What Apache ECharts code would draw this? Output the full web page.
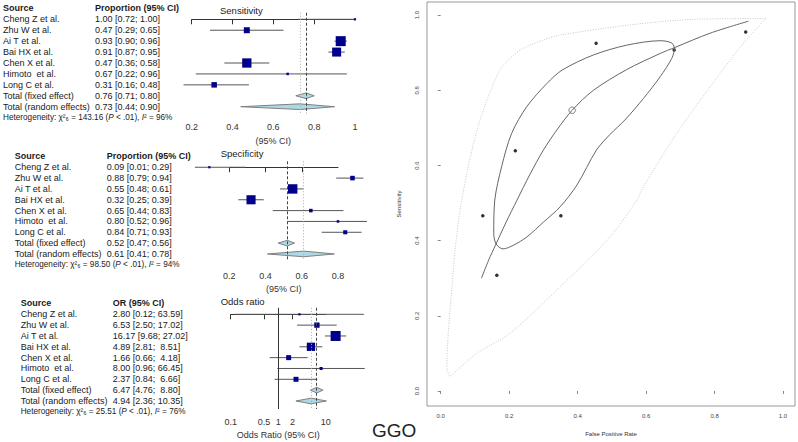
<!DOCTYPE html>
<html>
<head>
<meta charset="utf-8">
<script src="https://cdn.jsdelivr.net/npm/echarts@6/dist/echarts.min.js"></script>
<style>
html, body { margin: 0; padding: 0; background: #fff; }
#main { width: 798px; height: 442px; }
</style>
</head>
<body>
<div id="main"></div>
<script>
// studies, same order in the three forest plots
var studies = ['Cheng Z et al.', 'Zhu W et al.', 'Ai T et al.', 'Bai HX et al.', 'Chen X et al.', 'Himoto  et al.', 'Long C et al.'];

// sensitivity
var sensEst = [1.00, 0.47, 0.93, 0.91, 0.47, 0.67, 0.31];
var sensLo = [0.72, 0.29, 0.90, 0.87, 0.36, 0.22, 0.16];
var sensHi = [1.00, 0.65, 0.96, 0.95, 0.58, 0.96, 0.48];
var sensW = [1.2, 10.5, 29.1, 23.5, 25.1, 1.8, 8.8];
var sensFixed = [0.76, 0.71, 0.80];
var sensRandom = [0.73, 0.44, 0.90];
var sensTicks = [0.2, 0.4, 0.6, 0.8, 1];

// specificity
var specEst = [0.09, 0.88, 0.55, 0.32, 0.65, 0.80, 0.84];
var specLo = [0.01, 0.79, 0.48, 0.25, 0.44, 0.52, 0.71];
var specHi = [0.29, 0.94, 0.61, 0.39, 0.83, 0.96, 0.93];
var specW = [1.8, 9.0, 38.2, 35.8, 5.4, 2.8, 7.1];
var specFixed = [0.52, 0.47, 0.56];
var specRandom = [0.61, 0.41, 0.78];
var specTicks = [0.2, 0.4, 0.6, 0.8];

// odds ratio
var orEst = [2.80, 6.53, 16.17, 4.89, 1.66, 8.00, 2.37];
var orLo = [0.12, 2.50, 9.68, 2.81, 0.66, 0.96, 0.84];
var orHi = [63.59, 17.02, 27.02, 8.51, 4.18, 66.45, 6.66];
var orW = [1.5, 10.8, 38.5, 26.5, 9.6, 3.5, 9.6];
var orFixed = [6.47, 4.76, 8.80];
var orRandom = [4.94, 2.36, 10.35];
var orTicks = [0.1, 0.5, 1, 2, 10];

// heterogeneity (sens, spec, OR)
var hetQ = ['143.16', '98.50', '25.51'];
var hetI2 = [96, 94, 76];

// SROC plot
var srocFpr = [0.891, 0.454, 0.682, 0.218, 0.123, 0.351, 0.164];
var srocSens = [0.955, 0.925, 0.907, 0.639, 0.466, 0.466, 0.308];
var summaryPoint = [0.384, 0.747];
var srocCurve = [[0.119, 0.300], [0.140, 0.348], [0.160, 0.388], [0.190, 0.447], [0.223, 0.508], [0.260, 0.575],
  [0.300, 0.641], [0.339, 0.694], [0.384, 0.747], [0.446, 0.800], [0.543, 0.855], [0.641, 0.898], [0.684, 0.914],
  [0.787, 0.952], [0.899, 0.984]];
var confRegion = [[0.684, 0.911], [0.675, 0.885], [0.641, 0.836], [0.592, 0.778], [0.538, 0.721], [0.495, 0.683],
  [0.455, 0.641], [0.398, 0.548], [0.349, 0.490], [0.301, 0.450], [0.252, 0.410], [0.213, 0.388], [0.182, 0.378],
  [0.162, 0.391], [0.155, 0.419], [0.158, 0.508], [0.178, 0.597], [0.207, 0.685], [0.251, 0.756], [0.310, 0.818],
  [0.355, 0.854], [0.446, 0.894], [0.543, 0.920], [0.641, 0.932], [0.675, 0.926], [0.684, 0.911]];
var predRegion = [[0.027, 0.038], [0.105, 0.100], [0.202, 0.153], [0.349, 0.277], [0.495, 0.410], [0.573, 0.508],
  [0.592, 0.543], [0.689, 0.685], [0.787, 0.809], [0.884, 0.925], [0.950, 0.991], [0.738, 0.989], [0.543, 0.973],
  [0.349, 0.947], [0.300, 0.934], [0.232, 0.907], [0.173, 0.854], [0.115, 0.721], [0.086, 0.620], [0.058, 0.490],
  [0.042, 0.375], [0.033, 0.277], [0.022, 0.153], [0.018, 0.060], [0.027, 0.038]];
var rateTicks = [0, 0.2, 0.4, 0.6, 0.8, 1];

var FONT = '"Liberation Sans", Arial, sans-serif';
var TXT = '#1a1a1a';

var forests = [
  { title: 'Sensitivity', head: 'Proportion (95% CI)', axisName: '(95% CI)', log: false,
    est: sensEst, lo: sensLo, hi: sensHi, w: sensW, fixed: sensFixed, random: sensRandom, ticks: sensTicks,
    grid: { left: 191.7, top: 12.75, width: 163.3, height: 100.5 }, yMin: -0.6, yMax: 8.6,
    colA: 3, colB: 95, titlePos: [220, 11], labelMargin: 9, nameGap: 23, boxMax: 10, hiWidth: 4 },
  { title: 'Specificity', head: 'Proportion (95% CI)', axisName: '(95% CI)', log: false,
    est: specEst, lo: specLo, hi: specHi, w: specW, fixed: specFixed, random: specRandom, ticks: specTicks,
    grid: { left: 229.3, top: 161.3, width: 108.7, height: 98.6 }, yMin: -0.55, yMax: 8.55,
    colA: 14.7, colB: 106.7, titlePos: [220.7, 154.3], labelMargin: 12, nameGap: 25, boxMax: 9.4, hiWidth: 4 },
  { title: 'Odds ratio', head: 'OR (95% CI)', axisName: 'Odds Ratio (95% CI)', log: true,
    est: orEst, lo: orLo, hi: orHi, w: orW, fixed: orFixed, random: orRandom, ticks: orTicks,
    grid: { left: 230.7, top: 307.8, width: 95, height: 101.2 }, yMin: -0.6, yMax: 8.74,
    colA: 20.7, colB: 112.7, titlePos: [220.7, 302.3], labelMargin: 8, nameGap: 21, boxMax: 10, hiWidth: 5 }
];

function pad(s, n) {
  while (s.length < n) s = ' ' + s;
  return s;
}
function ciText(f, e, l, h) {
  return e.toFixed(2) + ' [' + l.toFixed(2) + '; ' + pad(h.toFixed(2), f.hiWidth) + ']';
}
function tickText(v) {
  return String(+(+v).toPrecision(6));
}

var grids = [], xAxes = [], yAxes = [], series = [], graphics = [];

forests.forEach(function (f, i) {
  var last = f.ticks[f.ticks.length - 1];
  grids.push({ left: f.grid.left, top: f.grid.top, width: f.grid.width, height: f.grid.height, outerBoundsMode: 'none' });
  var ax = {
    gridIndex: i, type: f.log ? 'log' : 'value',
    min: f.ticks[0], max: last,
    axisLine: { show: true, lineStyle: { color: '#333', width: 1 } },
    axisTick: { show: true, length: 5, lineStyle: { color: '#333' } },
    // the last label gets pushed inward by the layout, so it is drawn by the series below
    axisLabel: { fontSize: 9, fontFamily: FONT, color: '#333', margin: f.labelMargin,
      showMinLabel: true, showMaxLabel: false, hideOverlap: false, formatter: tickText },
    splitLine: { show: false },
    name: f.axisName, nameLocation: 'middle', nameGap: f.nameGap, nameMoveOverlap: false,
    nameTextStyle: { fontSize: 9, fontFamily: FONT, color: '#333' }
  };
  if (f.log) {
    ax.logBase = 10;
    ax.axisTick.customValues = f.ticks;
    ax.axisLabel.customValues = f.ticks;
  } else {
    ax.interval = f.ticks[1] - f.ticks[0];
  }
  xAxes.push(ax);
  yAxes.push({ gridIndex: i, type: 'value', inverse: true, min: f.yMin, max: f.yMax, show: false });

  var maxW = Math.max.apply(null, f.w);

  // confidence interval whiskers
  series.push({
    type: 'custom', xAxisIndex: i, yAxisIndex: i, clip: false, silent: true,
    data: f.est.map(function (v, k) { return [f.lo[k], f.hi[k], k]; }),
    encode: { x: [0, 1], y: 2 },
    renderItem: function (params, api) {
      var a = api.coord([api.value(0), api.value(2)]);
      var b = api.coord([api.value(1), api.value(2)]);
      return { type: 'line', shape: { x1: a[0], y1: a[1], x2: b[0], y2: b[1] },
        style: { stroke: '#555', lineWidth: 1 } };
    }
  });

  // study squares + pooled reference lines
  var marks = [];
  if (f.log) marks.push({ xAxis: 1, lineStyle: { color: '#333', type: 'solid', width: 1 } });
  marks.push({ xAxis: f.random[0], lineStyle: { color: '#aaa', type: [1, 2], width: 1 } });
  marks.push({ xAxis: f.fixed[0], lineStyle: { color: '#444', type: [3, 2], width: 1 } });
  series.push({
    type: 'scatter', xAxisIndex: i, yAxisIndex: i, clip: false, silent: true,
    symbol: 'rect',
    symbolSize: function (val) { return Math.max(2.2, f.boxMax * Math.sqrt(val[2] / maxW)); },
    itemStyle: { color: '#00008B', opacity: 1 },
    data: f.est.map(function (v, k) { return [v, k, f.w[k]]; }),
    markLine: { silent: true, symbol: 'none', label: { show: false }, animation: false, data: marks }
  });

  // pooled diamonds (fixed row 7, random row 8)
  series.push({
    type: 'custom', xAxisIndex: i, yAxisIndex: i, clip: false, silent: true,
    data: [[f.fixed[0], f.fixed[1], f.fixed[2], 7], [f.random[0], f.random[1], f.random[2], 8]],
    encode: { x: [0, 1, 2], y: 3 },
    renderItem: function (params, api) {
      var r = api.value(3), h = 0.26;
      var pts = [
        api.coord([api.value(1), r]), api.coord([api.value(0), r - h]),
        api.coord([api.value(2), r]), api.coord([api.value(0), r + h])
      ];
      return { type: 'polygon', shape: { points: pts }, style: { fill: '#ADD8E6', stroke: '#808080', lineWidth: 1 } };
    }
  });

  // last tick label, placed on the axis scale
  series.push({
    type: 'custom', xAxisIndex: i, yAxisIndex: i, clip: false, silent: true,
    data: [[last, f.yMax]], encode: { x: 0, y: 1 },
    renderItem: function (params, api) {
      var p = api.coord([api.value(0), api.value(1)]);
      return { type: 'text', style: { x: p[0], y: p[1] + f.labelMargin, text: tickText(api.value(0)),
        align: 'center', verticalAlign: 'top', fill: '#333', fontSize: 9, fontFamily: FONT } };
    }
  });

  // text table to the left
  var rows = [];
  for (var r = -1; r <= 9; r++) rows.push([f.ticks[0], r]);
  series.push({
    type: 'custom', xAxisIndex: i, yAxisIndex: i, clip: false, silent: true,
    data: rows, encode: { x: 0, y: 1 },
    renderItem: function (params, api) {
      var r = api.value(1);
      var y = api.coord([f.ticks[0], r])[1];
      if (r === 9) {
        return { type: 'text', style: {
          x: f.colA, y: y, verticalAlign: 'middle', fill: TXT, fontSize: 8.2, fontFamily: FONT,
          text: 'Heterogeneity: χ²₆ = ' + hetQ[i] + ' ({it|P} < .01), {it|I}² = ' + hetI2[i] + '%',
          rich: { it: { fontStyle: 'italic', fontSize: 8.2, fontFamily: FONT, fill: TXT } }
        } };
      }
      var a, b, bold = r === -1;
      if (r === -1) { a = 'Source'; b = f.head; }
      else if (r < 7) { a = studies[r]; b = ciText(f, f.est[r], f.lo[r], f.hi[r]); }
      else if (r === 7) { a = 'Total (fixed effect)'; b = ciText(f, f.fixed[0], f.fixed[1], f.fixed[2]); }
      else { a = 'Total (random effects)'; b = ciText(f, f.random[0], f.random[1], f.random[2]); }
      var st = { y: y, verticalAlign: 'middle', fill: TXT, fontSize: 9, fontFamily: FONT, fontWeight: bold ? 'bold' : 'normal' };
      return { type: 'group', children: [
        { type: 'text', style: Object.assign({ x: f.colA, text: a }, st) },
        { type: 'text', style: Object.assign({ x: f.colB, text: b }, st) }
      ] };
    }
  });

  graphics.push({ type: 'text', left: f.titlePos[0], top: f.titlePos[1] - 6,
    style: { text: f.title, fontSize: 9.5, fontFamily: FONT, fill: TXT } });
});

// SROC panel
grids.push({ left: 427, top: 2, width: 368, height: 404, show: true, borderColor: '#999', borderWidth: 1,
  backgroundColor: 'transparent', outerBoundsMode: 'none' });
var rateAxis = function (idx, name, rot) {
  return {
    gridIndex: idx, type: 'value', min: -0.04, max: 1.035,
    axisLine: { show: false },
    axisTick: { show: true, length: 3, customValues: rateTicks, lineStyle: { color: '#888' } },
    axisLabel: { customValues: rateTicks, fontSize: 6, fontFamily: FONT, color: '#444', margin: 7, rotate: rot,
      formatter: function (v) { return (+v).toFixed(1); } },
    splitLine: { show: false },
    name: name, nameLocation: 'middle', nameGap: 25,
    nameTextStyle: { fontSize: 6, fontFamily: FONT, color: '#333' }
  };
};
xAxes.push(rateAxis(3, 'False Positive Rate', 0));
yAxes.push(rateAxis(3, 'Sensitivity', 90));

series.push(
  { type: 'line', xAxisIndex: 3, yAxisIndex: 3, data: predRegion, showSymbol: false, smooth: 0.25, silent: true,
    lineStyle: { color: '#c8c8c8', width: 1, type: [1, 1.5] } },
  { type: 'line', xAxisIndex: 3, yAxisIndex: 3, data: confRegion, showSymbol: false, smooth: 0.3, silent: true,
    lineStyle: { color: '#666', width: 1 } },
  { type: 'line', xAxisIndex: 3, yAxisIndex: 3, data: srocCurve, showSymbol: false, smooth: 0.3, silent: true,
    lineStyle: { color: '#666', width: 1 } },
  { type: 'scatter', xAxisIndex: 3, yAxisIndex: 3, symbolSize: 3.5, silent: true,
    itemStyle: { color: '#000' },
    data: srocFpr.map(function (x, k) { return [x, srocSens[k]]; }) },
  { type: 'scatter', xAxisIndex: 3, yAxisIndex: 3, symbol: 'circle', symbolSize: 6.5, silent: true,
    itemStyle: { color: 'rgba(255,255,255,0)', borderColor: '#666', borderWidth: 1 },
    data: [summaryPoint] }
);

graphics.push({ type: 'text', left: 372, top: 421,
  style: { text: 'GGO', fontSize: 19, fontFamily: FONT, fill: '#222' } });

var chart = echarts.init(document.getElementById('main'), null, { renderer: 'svg' });
chart.setOption({
  animation: false,
  backgroundColor: '#fff',
  textStyle: { fontFamily: FONT },
  grid: grids,
  xAxis: xAxes,
  yAxis: yAxes,
  graphic: graphics,
  series: series
});
</script>
</body>
</html>
